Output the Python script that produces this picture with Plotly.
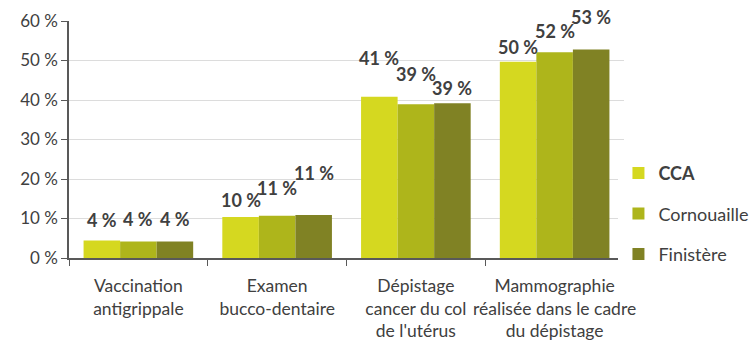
import plotly.graph_objects as go

# Indicateurs de prévention (%)
categories = [
    "Vaccination<br>antigrippale",
    "Examen<br>bucco-dentaire",
    "Dépistage<br>cancer du col<br>de l'utérus",
    "Mammographie<br>réalisée dans le cadre<br>du dépistage",
]
series_names = ["CCA", "Cornouaille", "Finistère"]
cca = [4.4, 10.4, 40.8, 49.7]
cornouaille = [4.2, 10.7, 38.9, 52.1]
finistere = [4.2, 10.9, 39.2, 52.8]
values = [cca, cornouaille, finistere]

y_tick_vals = [0, 10, 20, 30, 40, 50, 60]
y_tick_text = ["0 %", "10 %", "20 %", "30 %", "40 %", "50 %", "60 %"]

colors = ["#d5d820", "#aeb51b", "#808224"]
text_color = "#404040"
font_family = "Lato"

# vertical spacing (px) of each value label above its bar, per series / category
label_lift = [
    [21, 17, 39, 15],
    [22, 28, 30, 21],
    [22, 42, 15, 32],
]

W, H = 755, 343
margin = dict(l=69, r=131, t=21, b=85, autoexpand=False)
bargap = 0.21
cat_px = (W - margin["l"] - margin["r"]) / len(categories)
bar_px = cat_px * (1 - bargap) / len(series_names)

fig = go.Figure()
for i, (name, vals) in enumerate(zip(series_names, values)):
    fig.add_trace(go.Bar(
        x=categories,
        y=vals,
        name=f"<b>{name}</b>" if name == "CCA" else name,
        legendgroup=name,
        marker=dict(color=colors[i], line=dict(width=0)),
        hoverinfo="skip",
    ))
    for j, v in enumerate(vals):
        fig.add_annotation(
            x=categories[j], y=v, xref="x", yref="y",
            text=f"<b>{round(v)} %</b>",
            showarrow=False,
            xshift=(i - 1) * bar_px,
            yshift=label_lift[i][j],
            yanchor="middle",
            font=dict(family=font_family, size=18, color=text_color),
        )

fig.update_layout(
    width=W, height=H,
    margin=margin,
    paper_bgcolor="white",
    plot_bgcolor="white",
    barmode="group",
    bargap=bargap,
    bargroupgap=0,
    font=dict(family=font_family, size=17, color=text_color),
    legend=dict(
        x=0.99, xanchor="left", y=0.186, yanchor="middle",
        font=dict(size=18, color=text_color),
        traceorder="grouped",
        tracegroupgap=14,
        itemwidth=30,
    ),
    xaxis=dict(
        automargin=False,
        tickangle=0,
        showline=True, linecolor="#595959", linewidth=1.5,
        ticks="outside", tickson="boundaries", ticklen=6, tickcolor="#595959",
        ticklabelstandoff=11,
        tickfont=dict(size=17.5, color=text_color),
        showgrid=False,
    ),
    yaxis=dict(
        automargin=False,
        range=[0, 60],
        tickvals=y_tick_vals, ticktext=y_tick_text,
        showline=True, linecolor="#595959", linewidth=1.5,
        ticks="outside", ticklen=6, tickcolor="#595959",
        showgrid=True, gridcolor="#dcdcdc", gridwidth=1,
        zeroline=False,
        tickfont=dict(size=17, color=text_color),
    ),
)

fig.write_html("out.html")
